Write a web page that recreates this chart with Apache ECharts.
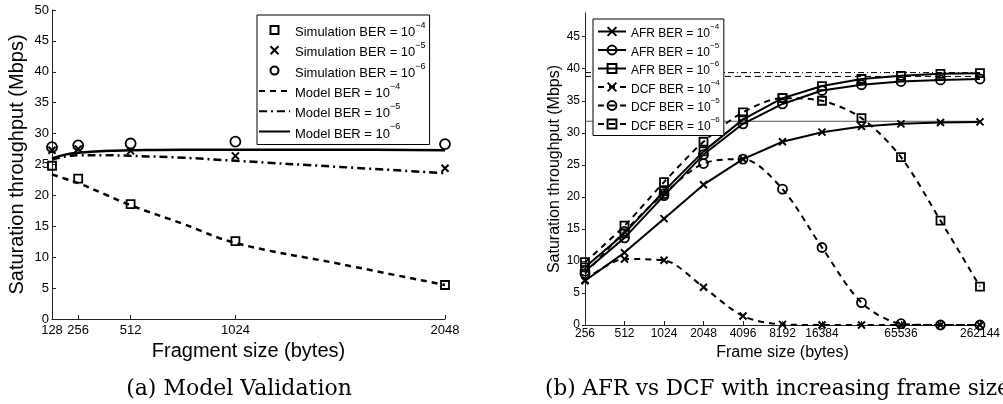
<!DOCTYPE html>
<html><head><meta charset="utf-8">
<script src="https://cdn.jsdelivr.net/npm/echarts@6/dist/echarts.min.js"></script>
<style>html,body{margin:0;padding:0;background:#fff}#c{width:1003px;height:404px}</style>
</head><body><div id="c"></div>
<script>
// ---------- Panel (a): Model validation ----------
const fragSizes = [128, 256, 512, 1024, 2048];
const simBer4 = [24.8, 22.7, 18.6, 12.6, 5.5];
const simBer5 = [27.3, 27.5, 27.2, 26.4, 24.4];
const simBer6 = [27.8, 28.1, 28.4, 28.7, 28.3];
const modelSizes = [128, 192, 256, 384, 512, 768, 1024, 1536, 2048];
const modelBer4 = [23.4, 22.7, 22.0, 20.2, 18.4, 15.4, 12.3, 8.9, 5.5];
const modelBer5 = [25.8, 26.3, 26.5, 26.5, 26.4, 26.1, 25.6, 24.6, 23.6];
const modelBer6 = [26.0, 26.6, 26.9, 27.2, 27.3, 27.4, 27.4, 27.4, 27.3];
const fragTicks = [128, 256, 512, 1024, 2048];

// ---------- Panel (b): AFR vs DCF ----------
const frameSizes = [256, 512, 1024, 2048, 4096, 8192, 16384, 32768, 65536, 131072, 262144];
const frameLabelsShown = [256, 512, 1024, 2048, 4096, 8192, 16384, 65536, 262144];
const afrBer4 = [6.9, 11.3, 16.6, 21.9, 25.9, 28.6, 30.1, 31.0, 31.4, 31.6, 31.7];
const afrBer5 = [8.4, 13.6, 20.2, 26.6, 31.4, 34.5, 36.6, 37.5, 38.0, 38.25, 38.4];
const afrBer6 = [9.0, 14.3, 20.9, 27.1, 32.1, 35.4, 37.3, 38.4, 38.9, 39.2, 39.3];
const dcfBer4 = [7.0, 10.3, 10.1, 5.9, 1.4, 0.1, 0.0, 0.0, 0.0, 0.0, 0.0];
const dcfBer5 = [8.0, 14.6, 20.5, 25.2, 25.9, 21.2, 12.1, 3.5, 0.2, 0.0, 0.0];
const dcfBer6 = [9.8, 15.5, 22.3, 28.6, 33.2, 35.4, 35.0, 32.3, 26.2, 16.3, 6.0];
const refSolid = 31.8, refDashed = 38.8, refDashDot = 39.4;
const yTicksB = [0, 5, 10, 15, 20, 25, 30, 35, 40, 45];

const SANS = '"Liberation Sans", Arial, sans-serif';
const xSym = 'path://M0,0L10,10M0,10L10,0';
const zip = (xs, ys) => xs.map((x, i) => [x, ys[i]]);

function richName(name) {
  const i = name.lastIndexOf('^');
  return '{b|' + name.slice(0, i) + '}{s|' + name.slice(i + 1) + '}';
}
function legendText(fs, ss) {
  return {
    fontSize: fs, fontFamily: SANS, color: '#000',
    rich: {
      b: { fontSize: fs, fontFamily: SANS, color: '#000', lineHeight: fs + 5, verticalAlign: 'bottom' },
      s: { fontSize: ss, fontFamily: SANS, color: '#000', lineHeight: ss + 1, verticalAlign: 'top' }
    }
  };
}
const open = { color: 'transparent', borderColor: '#000', borderWidth: 1.8 };

const nA = ['Simulation BER = 10^−4', 'Simulation BER = 10^−5', 'Simulation BER = 10^−6',
            'Model BER = 10^−4', 'Model BER = 10^−5', 'Model BER = 10^−6'];
const nB = ['AFR BER = 10^−4', 'AFR BER = 10^−5', 'AFR BER = 10^−6',
            'DCF BER = 10^−4', 'DCF BER = 10^−5', 'DCF BER = 10^−6'];

const axisLineStyle = { color: '#222', width: 1 };

const option = {
  animation: false,
  backgroundColor: '#fff',
  grid: [
    { left: 52, top: 10, width: 393, height: 309 },
    { left: 585, top: 13, width: 395, height: 312 }
  ],
  xAxis: [
    {
      gridIndex: 0, type: 'value', min: 128, max: 2048,
      name: 'Fragment size (bytes)', nameLocation: 'middle', nameGap: 16,
      nameTextStyle: { fontFamily: SANS, fontSize: 20, color: '#000', verticalAlign: 'top' },
      axisLine: { lineStyle: axisLineStyle },
      axisTick: { inside: true, length: 4, lineStyle: axisLineStyle, customValues: fragTicks },
      axisLabel: { customValues: fragTicks, margin: 5, fontFamily: SANS, fontSize: 13, color: '#000', formatter: v => String(v) },
      splitLine: { show: false }
    },
    {
      gridIndex: 1, type: 'log', logBase: 2, min: 256, max: 262144, interval: 1,
      name: 'Frame size (bytes)', nameLocation: 'middle', nameGap: 17,
      nameTextStyle: { fontFamily: SANS, fontSize: 16, color: '#000', verticalAlign: 'top' },
      axisLine: { lineStyle: axisLineStyle },
      axisTick: { inside: true, length: 4, lineStyle: axisLineStyle },
      axisLabel: {
        margin: 3, fontFamily: SANS, fontSize: 12, color: '#000',
        formatter: v => frameLabelsShown.indexOf(Math.round(v)) >= 0 ? String(Math.round(v)) : ''
      },
      splitLine: { show: false }, minorTick: { show: false }, minorSplitLine: { show: false }
    }
  ],
  yAxis: [
    {
      gridIndex: 0, type: 'value', min: 0, max: 50, interval: 5,
      name: 'Saturation throughput (Mbps)', nameLocation: 'middle', nameGap: 25,
      nameTextStyle: { fontFamily: SANS, fontSize: 20, color: '#000' },
      axisLine: { show: true, lineStyle: axisLineStyle },
      axisTick: { show: true, inside: true, length: 4, lineStyle: axisLineStyle },
      axisLabel: { margin: 3, fontFamily: SANS, fontSize: 13, color: '#000' },
      splitLine: { show: false }
    },
    {
      gridIndex: 1, type: 'value', min: 0, max: 48.7,
      name: 'Saturation throughput (Mbps)', nameLocation: 'middle', nameGap: 22,
      nameTextStyle: { fontFamily: SANS, fontSize: 16, color: '#000' },
      axisLine: { show: true, lineStyle: axisLineStyle },
      axisTick: { show: true, inside: false, length: 3, lineStyle: axisLineStyle, customValues: yTicksB },
      axisLabel: { customValues: yTicksB, margin: 5, fontFamily: SANS, fontSize: 12, color: '#000' },
      splitLine: { show: false }
    }
  ],
  legend: [
    {
      orient: 'vertical', left: 257, top: 15, padding: [6, 4, 4, 1],
      itemWidth: 31, itemHeight: 10, itemGap: 2.3,
      backgroundColor: '#fff', borderColor: '#000', borderWidth: 1, borderRadius: 0,
      data: nA.map(n => ({ name: n })),
      formatter: richName,
      textStyle: legendText(13, 9),
      z: 10
    },
    {
      orient: 'vertical', left: 593, top: 19, padding: [4, 4, 3, 4],
      itemWidth: 28, itemHeight: 11, itemGap: 1.5,
      backgroundColor: '#fff', borderColor: '#000', borderWidth: 1, borderRadius: 0,
      data: nB.map(n => ({ name: n })),
      formatter: richName,
      textStyle: legendText(12, 8),
      z: 10
    }
  ],
  graphic: [
    { type: 'text', x: 239, y: 389, style: { text: '(a) Model Validation', align: 'center', verticalAlign: 'middle', font: '22px "DejaVu Serif", serif', fill: '#000' } },
    { type: 'text', x: 545, y: 389, style: { text: '(b) AFR vs DCF with increasing frame size', align: 'left', verticalAlign: 'middle', font: '21.5px "DejaVu Serif", serif', fill: '#000' } }
  ],
  series: [
    // panel a
    { name: nA[0], type: 'line', xAxisIndex: 0, yAxisIndex: 0, data: zip(fragSizes, simBer4), symbol: 'rect', symbolSize: 8, lineStyle: { opacity: 0 }, itemStyle: open, z: 5 },
    { name: nA[1], type: 'line', xAxisIndex: 0, yAxisIndex: 0, data: zip(fragSizes, simBer5), symbol: xSym, symbolSize: 7, lineStyle: { opacity: 0 }, itemStyle: { color: 'transparent', borderColor: '#000', borderWidth: 2 }, z: 5 },
    { name: nA[2], type: 'line', xAxisIndex: 0, yAxisIndex: 0, data: zip(fragSizes, simBer6), symbol: 'circle', symbolSize: 10, lineStyle: { opacity: 0 }, itemStyle: open, z: 5 },
    { name: nA[3], type: 'line', xAxisIndex: 0, yAxisIndex: 0, data: zip(modelSizes, modelBer4), symbol: 'none', smooth: 0.4, lineStyle: { color: '#000', width: 2.5, type: [6, 5] }, itemStyle: { color: '#000', opacity: 0 } },
    { name: nA[4], type: 'line', xAxisIndex: 0, yAxisIndex: 0, data: zip(modelSizes, modelBer5), symbol: 'none', smooth: 0.4, lineStyle: { color: '#000', width: 2.5, type: [8, 4, 2, 4] }, itemStyle: { color: '#000', opacity: 0 } },
    { name: nA[5], type: 'line', xAxisIndex: 0, yAxisIndex: 0, data: zip(modelSizes, modelBer6), symbol: 'none', smooth: 0.4, lineStyle: { color: '#000', width: 2.5 }, itemStyle: { color: '#000', opacity: 0 } },
    // panel b reference lines
    { name: 'ref1', type: 'line', xAxisIndex: 1, yAxisIndex: 1, data: [[256, refSolid], [262144, refSolid]], symbol: 'none', silent: true, lineStyle: { color: '#555', width: 1 } },
    { name: 'ref2', type: 'line', xAxisIndex: 1, yAxisIndex: 1, data: [[256, refDashed], [262144, refDashed]], symbol: 'none', silent: true, lineStyle: { color: '#000', width: 1, type: [6, 4] } },
    { name: 'ref3', type: 'line', xAxisIndex: 1, yAxisIndex: 1, data: [[256, refDashDot], [262144, refDashDot]], symbol: 'none', silent: true, lineStyle: { color: '#000', width: 1, type: [6, 3, 1, 3] } },
    // panel b data
    { name: nB[0], type: 'line', xAxisIndex: 1, yAxisIndex: 1, data: zip(frameSizes, afrBer4), symbol: xSym, symbolSize: 7, lineStyle: { color: '#000', width: 2 }, itemStyle: { color: 'transparent', borderColor: '#000', borderWidth: 2 } },
    { name: nB[1], type: 'line', xAxisIndex: 1, yAxisIndex: 1, data: zip(frameSizes, afrBer5), symbol: 'circle', symbolSize: 9, lineStyle: { color: '#000', width: 2 }, itemStyle: open },
    { name: nB[2], type: 'line', xAxisIndex: 1, yAxisIndex: 1, data: zip(frameSizes, afrBer6), symbol: 'rect', symbolSize: 8, lineStyle: { color: '#000', width: 2 }, itemStyle: open },
    { name: nB[3], type: 'line', xAxisIndex: 1, yAxisIndex: 1, data: zip(frameSizes, dcfBer4), symbol: xSym, symbolSize: 7, smooth: 0.3, lineStyle: { color: '#000', width: 2, type: [6, 5] }, itemStyle: { color: 'transparent', borderColor: '#000', borderWidth: 2 } },
    { name: nB[4], type: 'line', xAxisIndex: 1, yAxisIndex: 1, data: zip(frameSizes, dcfBer5), symbol: 'circle', symbolSize: 9, smooth: 0.3, lineStyle: { color: '#000', width: 2, type: [6, 5] }, itemStyle: open },
    { name: nB[5], type: 'line', xAxisIndex: 1, yAxisIndex: 1, data: zip(frameSizes, dcfBer6), symbol: 'rect', symbolSize: 8, smooth: 0.3, lineStyle: { color: '#000', width: 2, type: [6, 5] }, itemStyle: open }
  ]
};
const chart = echarts.init(document.getElementById('c'), null, { renderer: 'canvas' });
chart.setOption(option);
</script></body></html>
